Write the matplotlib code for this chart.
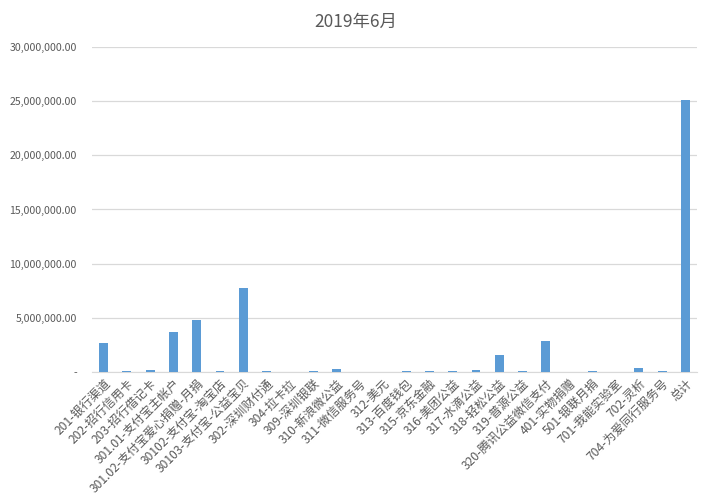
import matplotlib
matplotlib.use("Agg")
import matplotlib.pyplot as plt
from matplotlib.ticker import FuncFormatter

plt.rcParams['font.family'] = ['Noto Sans CJK SC', 'DejaVu Sans']

categories = [
    "201-银行渠道", "202-招行信用卡", "203-招行借记卡", "301.01-支付宝主帐户",
    "301.02-支付宝爱心捐赠-月捐", "30102-支付宝-淘宝店", "30103-支付宝-公益宝贝",
    "302-深圳财付通", "304-拉卡拉", "309-深圳银联", "310-新浪微公益", "311-微信服务号",
    "312-美元", "313-百度钱包", "315-京东金融", "316-美团公益", "317-水滴公益",
    "318-轻松公益", "319-普源公益", "320-腾讯公益微信支付", "401-实物捐赠",
    "501-银联月捐", "701-我能实验室", "702-灵析", "704-为爱同行服务号", "总计",
]
values = [
    2700000, 90000, 200000, 3720000, 4840000, 80000, 7730000, 80000, 0, 80000,
    280000, 0, 0, 70000, 70000, 80000, 200000, 1580000, 80000, 2890000, 0,
    80000, 0, 370000, 80000, 25100000,
]
yticks = [0, 5000000, 10000000, 15000000, 20000000, 25000000, 30000000]

grey = "#595959"
fig = plt.figure(figsize=(7.11, 5.03), dpi=100)
ax = fig.add_axes([0.1294, 0.2604, 0.851, 0.6462])

x = range(len(categories))
ax.bar(x, values, width=0.38, color="#5B9BD5", zorder=3)

ax.set_ylim(0, 30000000)
ax.set_xlim(-0.5, len(categories) - 0.5)
ax.set_yticks(yticks)
ax.yaxis.set_major_formatter(FuncFormatter(lambda v, p: "-" if v == 0 else f"{v:,.2f}"))
ax.grid(axis="y", color="#D9D9D9", linewidth=0.9, zorder=0)
for s in ["top", "right", "left"]:
    ax.spines[s].set_visible(False)
ax.spines["bottom"].set_color("#D9D9D9")
ax.tick_params(axis="both", length=0, colors=grey)
ax.tick_params(axis="y", labelsize=7.6, pad=11)

ax.set_xticks(list(x))
ax.set_xticklabels(categories, rotation=45, ha="right", va="top",
                   rotation_mode="anchor", fontsize=8.7, color=grey)

fig.suptitle("2019年6月", y=0.975, fontsize=12.5, color=grey)

fig.savefig("out.png", dpi=100)
